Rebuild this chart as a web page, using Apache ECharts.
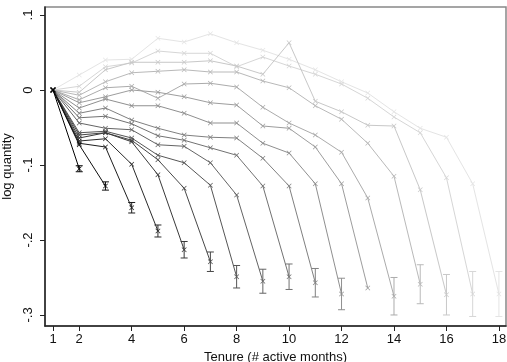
<!DOCTYPE html>
<html>
<head>
<meta charset="utf-8">
<script src="https://cdn.jsdelivr.net/npm/echarts@6/dist/echarts.min.js"></script>
<style>
  html, body { margin: 0; padding: 0; background: #fff; }
  #chart { width: 507px; height: 362px; }
</style>
</head>
<body>
<div id="chart"></div>
<script>
// tenure months (x) and one line per cohort, named by the last active month
const tenure = [1, 2, 3, 4, 5, 6, 7, 8, 9, 10, 11, 12, 13, 14, 15, 16, 17, 18];

const s2 = [0, -0.105];
const s3 = [0, -0.073, -0.128];
const s4 = [0, -0.071, -0.076, -0.157];
const s5 = [0, -0.068, -0.065, -0.099, -0.188];
const s6 = [0, -0.064, -0.057, -0.069, -0.113, -0.213];
const s7 = [0, -0.060, -0.057, -0.067, -0.093, -0.131, -0.229];
const s8 = [0, -0.057, -0.055, -0.064, -0.087, -0.097, -0.127, -0.249];
const s9 = [0, -0.044, -0.051, -0.053, -0.073, -0.075, -0.097, -0.140, -0.255];
const s10 = [0, -0.037, -0.035, -0.045, -0.061, -0.067, -0.077, -0.087, -0.128, -0.249];
const s11 = [0, -0.031, -0.024, -0.040, -0.051, -0.060, -0.063, -0.064, -0.091, -0.128, -0.257];
const s12 = [0, -0.024, -0.012, -0.021, -0.021, -0.031, -0.044, -0.044, -0.071, -0.084, -0.125, -0.272];
const s13 = [0, -0.017, -0.009, 0, -0.003, -0.009, -0.017, -0.020, -0.048, -0.051, -0.076, -0.125, -0.264];
const s14 = [0, -0.013, 0.003, 0.005, -0.011, 0.008, 0.009, 0.004, -0.023, -0.044, -0.060, -0.083, -0.144, -0.275];
const s15 = [0, -0.007, 0.011, 0.023, 0.025, 0.027, 0.024, 0.024, 0.012, 0.003, -0.021, -0.039, -0.071, -0.115, -0.259];
const s16 = [0, -0.003, 0.027, 0.037, 0.037, 0.037, 0.039, 0.032, 0.021, 0.063, -0.015, -0.029, -0.047, -0.048, -0.133, -0.273];
const s17 = [0, 0.005, 0.031, 0.036, 0.052, 0.049, 0.049, 0.031, 0.044, 0.032, 0.021, 0.008, -0.011, -0.036, -0.057, -0.117, -0.272];
const s18 = [0, 0.020, 0.040, 0.041, 0.069, 0.064, 0.075, 0.063, 0.053, 0.041, 0.027, 0.011, -0.004, -0.029, -0.051, -0.063, -0.125, -0.272];

const cohorts = [s2, s3, s4, s5, s6, s7, s8, s9, s10, s11, s12, s13, s14, s15, s16, s17, s18];
// half width of the confidence interval on the last point of each cohort (null = none drawn)
const ciHalf = [0.004, 0.0055, 0.007, 0.008, 0.011, 0.013, 0.015, 0.016, 0.017, 0.019, 0.021, null, 0.025, 0.026, 0.027, 0.030, 0.030];

const yTicks = [-0.3, -0.2, -0.1, 0, 0.1];
const yTickLabels = ['-.3', '-.2', '-.1', '0', '.1'];
const xTicks = [1, 2, 4, 6, 8, 10, 12, 14, 16, 18];

const FONT = 'Liberation Sans, Arial, sans-serif';

// black for the shortest cohort, fading to pale grey for the longest
const grey = (i) => {
  const g = Math.round(i / (cohorts.length - 1) * 228);
  return `rgb(${g},${g},${g})`;
};

const crossPath = 'path://M0,1L1,0L5,4L9,0L10,1L6,5L10,9L9,10L5,6L1,10L0,9L4,5Z';

const series = [];
// draw the light ones first so the dark ones sit on top
for (let i = cohorts.length - 1; i >= 0; i--) {
  const vals = cohorts[i];
  const color = grey(i);
  series.push({
    type: 'line',
    data: vals.map((v, k) => [tenure[k], v]),
    symbol: crossPath,
    symbolSize: 5,
    lineStyle: { color, width: 1 },
    itemStyle: { color },
    z: 10 + (cohorts.length - i),
    silent: true,
    animation: false
  });
  if (ciHalf[i] != null) {
    const last = vals[vals.length - 1];
    series.push({
      type: 'custom',
      data: [[tenure[vals.length - 1], last - ciHalf[i], last + ciHalf[i]]],
      renderItem: (params, api) => {
        const lo = api.coord([api.value(0), api.value(1)]);
        const hi = api.coord([api.value(0), api.value(2)]);
        const cap = 3.5;
        const style = { stroke: color, lineWidth: 1 };
        return {
          type: 'group',
          children: [
            { type: 'line', shape: { x1: lo[0], y1: lo[1], x2: hi[0], y2: hi[1] }, style },
            { type: 'line', shape: { x1: lo[0] - cap, y1: lo[1], x2: lo[0] + cap, y2: lo[1] }, style },
            { type: 'line', shape: { x1: hi[0] - cap, y1: hi[1], x2: hi[0] + cap, y2: hi[1] }, style }
          ]
        };
      },
      z: 10 + (cohorts.length - i),
      silent: true,
      animation: false
    });
  }
}

const chart = echarts.init(document.getElementById('chart'), null, { renderer: 'canvas' });

chart.setOption({
  animation: false,
  backgroundColor: '#fff',
  grid: {
    left: 45, right: 1, top: 7, bottom: 36,
    containLabel: false,
    outerBoundsMode: 'none',
    show: true,
    borderColor: '#888',
    borderWidth: 1.5
  },
  xAxis: {
    type: 'value',
    min: 0.695,
    max: 18.27,
    name: 'Tenure (# active months)',
    nameLocation: 'middle',
    nameGap: 20,
    nameTextStyle: { fontFamily: FONT, fontSize: 13, color: '#111' },
    axisLine: { show: true, onZero: false, lineStyle: { color: '#222', width: 1.5 } },
    axisTick: { show: true, length: 5, lineStyle: { color: '#222' }, customValues: xTicks },
    axisLabel: { fontFamily: FONT, fontSize: 13, color: '#111', margin: 7, customValues: xTicks },
    splitLine: { show: false }
  },
  yAxis: {
    type: 'value',
    min: -0.3147,
    max: 0.1107,
    name: 'log quantity',
    nameLocation: 'middle',
    nameGap: 26,
    nameTextStyle: { fontFamily: FONT, fontSize: 13, color: '#111' },
    axisLine: { show: true, onZero: false, lineStyle: { color: '#222', width: 1.5 } },
    axisTick: { show: true, length: 5, lineStyle: { color: '#222' }, customValues: yTicks },
    axisLabel: {
      fontFamily: FONT, fontSize: 13, color: '#111', margin: 10, rotate: 90,
      customValues: yTicks,
      formatter: (v) => {
        const k = yTicks.findIndex(t => Math.abs(t - v) < 1e-9);
        return k >= 0 ? yTickLabels[k] : '';
      }
    },
    splitLine: { show: false }
  },
  series
});
</script>
</body>
</html>
